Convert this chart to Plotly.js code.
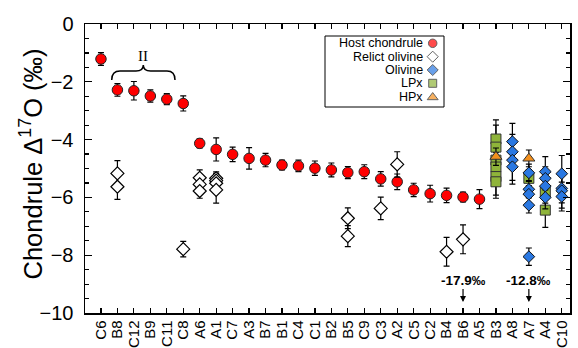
<!DOCTYPE html>
<html><head><meta charset="utf-8">
<script src="https://cdn.plot.ly/plotly-3.0.1.min.js"></script>
<style>body{margin:0;padding:0;background:#fff}#c{width:578px;height:348px}</style>
</head><body><div id="c"></div>
<script>
const cats = ['C6','B8','C12','B9','C11','C8','A6','A1','C7','A3','B7','B1','C4','C1','B2','B5','C9','C3','A2','C5','C2','B4','B6','A5','B3','A8','A7','A4','C10'];

const hostX = cats.slice(0, 24);
const hostY = [-1.21,-2.28,-2.31,-2.49,-2.6,-2.75,-4.13,-4.34,-4.51,-4.65,-4.71,-4.88,-4.91,-4.99,-5.05,-5.14,-5.11,-5.36,-5.46,-5.74,-5.87,-5.93,-5.99,-6.06];
const hostErr = [0.22,0.22,0.32,0.21,0.19,0.26,0.16,0.4,0.25,0.37,0.23,0.17,0.2,0.25,0.24,0.21,0.24,0.25,0.27,0.23,0.29,0.25,0.17,0.33];

const relictX = ['B8','B8','C8','A6','A6','A6','A1','A1','A1','A1','B5','B5','C3','A2','B4','B6'];
const relictY = [-5.17,-5.63,-7.79,-5.32,-5.55,-5.78,-5.34,-5.42,-5.51,-5.74,-6.72,-7.34,-6.38,-4.86,-7.88,-7.45];
const relictErr = [0.44,0.44,0.27,0.27,0.3,0.25,0.22,0.25,0.3,0.46,0.36,0.36,0.39,0.44,0.5,0.5];

const lpxX = ['B3','B3','B3','B3','B3','B3','A7','A4','A4'];
const lpxY = [-3.98,-4.26,-4.71,-4.95,-5.28,-5.46,-5.34,-5.8,-6.44];
const lpxErr = [0.66,0.76,0.5,0.5,0.64,0.57,0.3,0.4,0.6];

const olX = ['A8','A8','A8','A8','A7','A7','A7','A7','A7','A4','A4','A4','A4','C10','C10','C10','C10'];
const olY = [-4.07,-4.42,-4.71,-4.94,-5.15,-5.72,-5.89,-6.27,-8.05,-5.11,-5.34,-5.61,-6.0,-5.18,-5.69,-5.77,-5.97];
const olErr = [0.63,0.6,0.7,0.6,0.3,0.3,0.3,0.27,0.3,0.52,0.4,0.4,0.4,0.63,0.5,0.6,0.5];

const hpxX = ['B3','A7'];
const hpxY = [-4.59,-4.65];
const hpxErr = [0.3,0.29];

const legendNames = ['Host chondrule','Relict olivine','Olivine','LPx','HPx'];
const offScale = [{x:'B6', label:'-17.9‰'}, {x:'A7', label:'-12.8‰'}];
const yTitle = 'Chondrule Δ<sup>17</sup>O (‰)';

const FONT = 'Liberation Sans, Arial, sans-serif';
const RED = '#ff0000', BLUE = '#2a78e2', GREEN = '#8fb43a', ORANGE = '#f3901d';
const eb = arr => ({type:'data', array:arr, visible:true, color:'#000', thickness:1.2, width:3});

const legRows = [43.3,56.7,70,83.3,97.3];

const traces = [
  {x:hostX, y:hostY, error_y:eb(hostErr), type:'scatter', mode:'markers',
   marker:{symbol:'circle', size:10.5, color:RED, line:{color:'#222', width:1}}},
  {x:relictX, y:relictY, error_y:eb(relictErr), type:'scatter', mode:'markers',
   marker:{symbol:'diamond', size:10, color:'#fff', line:{color:'#000', width:1.2}}},
  {x:lpxX, y:lpxY, error_y:eb(lpxErr), type:'scatter', mode:'markers',
   marker:{symbol:'square', size:10, color:GREEN, line:{color:'#333', width:1}}},
  {x:olX, y:olY, error_y:eb(olErr), type:'scatter', mode:'markers',
   marker:{symbol:'diamond', size:9, color:BLUE, line:{color:'#111', width:1}}},
  {x:hpxX, y:hpxY, error_y:eb(hpxErr), type:'scatter', mode:'markers',
   marker:{symbol:'triangle-up', size:10.5, color:ORANGE, line:{color:'#333', width:1}}},
  // custom legend symbols (overlay axes in pixel units)
  {x:[432.7,432.7,432.7,432.7,432.7], y:legRows, xaxis:'x2', yaxis:'y2',
   type:'scatter', mode:'markers', hoverinfo:'skip',
   marker:{symbol:['circle','diamond','diamond','square','triangle-up'], size:[8.5,8.5,8.5,8,9.5],
     color:[RED,'#fff',BLUE,GREEN,ORANGE], line:{color:'#222', width:1}}}
];

const annotations = legendNames.map((t,i)=>({
  xref:'x2', yref:'y2', x:425, y:legRows[i], text:t, showarrow:false,
  xanchor:'right', yanchor:'middle', font:{family:FONT, size:12.5, color:'#000'}
}));
offScale.forEach(o=>{
  annotations.push({xref:'x', yref:'y', x:o.x, y:-9.62, text:'<b>'+o.label+'</b>', showarrow:true,
    ax:0, ay:-22, arrowhead:2, arrowsize:1, arrowwidth:1.2, arrowcolor:'#000', standoff:0,
    font:{family:FONT, size:13.5, color:'#000'}});
});
annotations.push({xref:'x2', yref:'y2', x:143.3, y:56, text:'II', showarrow:false,
  font:{family:'Liberation Serif, Times New Roman, serif', size:15, color:'#000'}});
annotations.push({xref:'paper', yref:'paper', x:(31.5-85)/485, y:(313-164)/289, text:yTitle, showarrow:false, textangle:-90,
  xanchor:'center', yanchor:'middle', font:{family:FONT, size:25.5, color:'#000'}});

const layout = {
  width:578, height:348,
  margin:{l:85, r:8, t:24, b:35},
  paper_bgcolor:'#fff', plot_bgcolor:'#fff',
  showlegend:false,
  font:{family:FONT, color:'#000'},
  xaxis:{type:'category', categoryorder:'array', categoryarray:cats, range:[-0.97,28.5],
    tickmode:'linear', tick0:0, dtick:1,
    showline:true, linecolor:'#000', linewidth:1.5, mirror:'allticks',
    ticks:'inside', ticklen:5, tickwidth:1.2, tickcolor:'#000',
    tickangle:-90, tickfont:{family:FONT, size:15, color:'#000'}, showgrid:false, zeroline:false},
  yaxis:{range:[-10,0], tick0:0, dtick:2, showline:true, linecolor:'#000', linewidth:1.5, mirror:'allticks',
    ticks:'inside', ticklen:7, tickwidth:1.2, tickcolor:'#000', ticklabelstandoff:6,
    minor:{dtick:0.5, ticks:'inside', ticklen:4, tickwidth:1.2, tickcolor:'#000', showgrid:false},
    tickfont:{family:FONT, size:20, color:'#000'}, showgrid:false, zeroline:false},
  xaxis2:{overlaying:'x', anchor:'y2', range:[85,570], visible:false, fixedrange:true},
  yaxis2:{overlaying:'y', anchor:'x2', range:[313,24], visible:false, fixedrange:true},
  shapes:[
    {type:'rect', xref:'x2', yref:'y2', x0:325, x1:444, y0:36, y1:107, line:{color:'#000', width:1}, fillcolor:'rgba(0,0,0,0)', layer:'below'},
    {type:'path', xref:'x2', yref:'y2', line:{color:'#000', width:1.5},
     path:'M 111.7 80 Q 111.7 71 120 71 L 136 71 Q 143.3 71 143.3 65 Q 143.3 71 150.6 71 L 167 71 Q 175 71 175 80'}
  ],
  annotations:annotations
};
Plotly.newPlot('c', traces, layout, {displayModeBar:false, staticPlot:true});
</script></body></html>
